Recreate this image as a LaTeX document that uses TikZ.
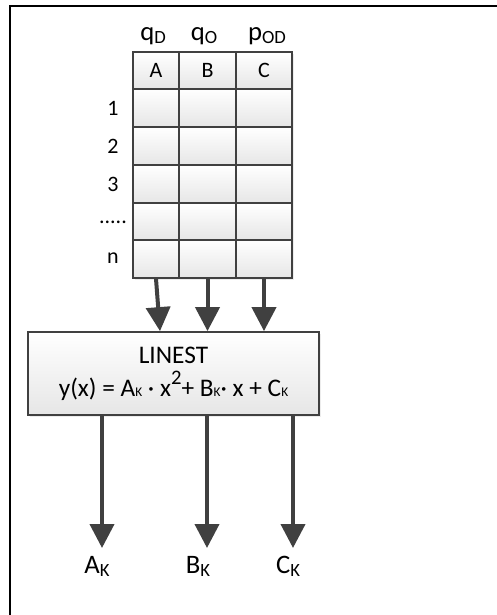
\documentclass[tikz,border=0pt]{standalone}
\usepackage{fontspec}
\setmainfont{Carlito}
\usetikzlibrary{arrows.meta,shadows}

\definecolor{edge}{HTML}{404040}
\definecolor{cellbot}{HTML}{E6E6E6}

% lowered subscript and raised superscript as set in the labels
\newcommand{\lowsub}[2]{\raisebox{#1}{\fontsize{#2}{#2}\selectfont K}}
\newcommand{\hsub}[1]{\raisebox{-2.7pt}{\fontsize{14}{14}\selectfont #1}}
\newcommand{\supii}{\raisebox{9pt}{\fontsize{15.5}{15.5}\selectfont 2}}

\begin{document}
\begin{tikzpicture}[x=0.75pt,y=-0.75pt,
  big/.style={font=\fontsize{20}{24}\selectfont},
  small/.style={font=\fontsize{16.5}{19}\selectfont},
  cell/.style={draw=edge,line width=1.3pt,inner sep=0pt,
    top color=white,bottom color=cellbot,
    drop shadow={opacity=0.15,shadow xshift=1.2pt,shadow yshift=-1.2pt}},
  funcbox/.style={draw=edge,line width=1.3pt,inner sep=0pt,
    top color=white,bottom color=cellbot,align=center,
    minimum width=218.25pt,minimum height=62.25pt,
    font=\fontsize{19}{24.5}\selectfont,
    drop shadow={opacity=0.15,shadow xshift=1.5pt,shadow yshift=-1.5pt}},
  flow/.style={draw=edge,line width=3pt,
    -{Triangle[width=18pt,length=18pt]}}]

\useasboundingbox (0,0) rectangle (497,615);

% frame
\draw[line width=1.6pt,line cap=rect] (10,615) -- (10,6) -- (497,6);

% table: column edges 133,179,236,292 ; row edges 52..278
\def\colx{{133,179,236,292}}
\def\rowy{{52,89,127,165,203,240,278}}
\foreach \c/\cn in {0/A,1/B,2/C}{
  \foreach \r/\rn in {0/h,1/1,2/2,3/3,4/d,5/n}{
    \pgfmathsetmacro{\xa}{\colx[\c]}
    \pgfmathsetmacro{\xb}{\colx[\c+1]}
    \pgfmathsetmacro{\ya}{\rowy[\r]}
    \pgfmathsetmacro{\yb}{\rowy[\r+1]}
    \node[cell,minimum width={(\xb-\xa)*0.75pt},minimum height={(\yb-\ya)*0.75pt}]
      (c\cn-\rn) at ({(\xa+\xb)/2},{(\ya+\yb)/2}) {};
  }
}
\node[small] at (cA-h) {A};
\node[small] at (cB-h) {B};
\node[small] at (cC-h) {C};

% row labels
\node[small] (r1) at (113,108) {1};
\node[small] (r2) at (113,146) {2};
\node[small] (r3) at (113,184) {3};
\node[small] (rd) at (113,222) {.....};
\node[small] (rn) at (113,258) {n};

% column headers
\node[big,anchor=base,inner sep=0pt] (hA) at (153,40) {q\hsub{D}};
\node[big,anchor=base,inner sep=0pt] (hB) at (204,40) {q\hsub{O}};
\node[big,anchor=base,inner sep=0pt] (hC) at (267,40) {p\hsub{OD}};

% regression box
\node[funcbox] (linest) at (173.5,373.5)
  {LINEST\\y(x) = A\lowsub{-0.3pt}{10}~·~x\supii+ B\lowsub{-0.3pt}{10}· x + C\lowsub{-0.3pt}{10}};

% inputs
\draw[flow] (cA-n.south) -- ([xshift=3pt]cA-n.south |- linest.north);
\draw[flow] (cB-n.south) -- (cB-n.south |- linest.north);
\draw[flow] (cC-n.south) -- (cC-n.south |- linest.north);

% outputs
\node[big,anchor=north,inner sep=0pt] (kA) at (97,556) {A\lowsub{-2pt}{14}};
\node[big,anchor=north,inner sep=0pt] (kB) at (198,556) {B\lowsub{-2pt}{14}};
\node[big,anchor=north,inner sep=0pt] (kC) at (288,556) {C\lowsub{-2pt}{14}};
\coordinate (oA) at (102,0);
\coordinate (oB) at (207,0);
\coordinate (oC) at (293,0);
\draw[flow,shorten >=6pt] (linest.south -| oA) -- (kA.north -| oA);
\draw[flow,shorten >=6pt] (linest.south -| oB) -- (kB.north -| oB);
\draw[flow,shorten >=6pt] (linest.south -| oC) -- (kC.north -| oC);

\end{tikzpicture}
\end{document}
